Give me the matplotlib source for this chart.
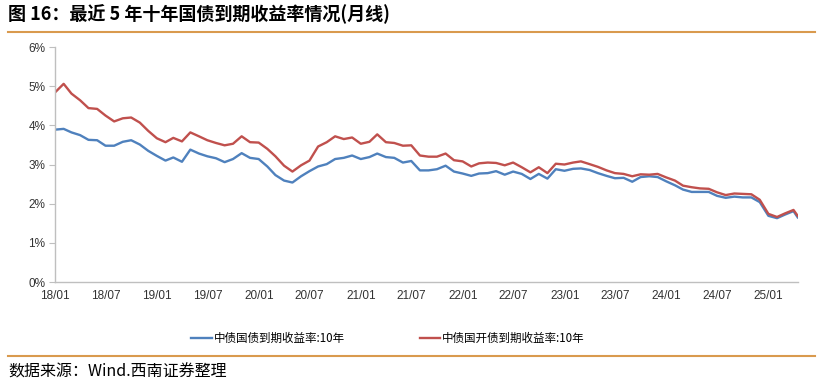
import numpy as np
import pandas as pd
import matplotlib
matplotlib.use("Agg")
import matplotlib.pyplot as plt
import matplotlib.dates as mdates
from matplotlib.lines import Line2D

plt.rcParams['font.family'] = ['Noto Sans CJK SC', 'DejaVu Sans']

# month-end dates Dec 2017 .. Mar 2025, plus last daily reading
dates = list(pd.date_range('2017-12-31', '2025-03-31', freq='ME')) + [pd.Timestamp('2025-04-15')]

# 中债国债到期收益率:10年 (%)
cgb = [3.89, 3.91, 3.82, 3.75, 3.63, 3.62, 3.48, 3.48, 3.58, 3.62, 3.51, 3.35,
       3.22, 3.10, 3.18, 3.07, 3.38, 3.28, 3.21, 3.16, 3.06, 3.14, 3.29, 3.17,
       3.14, 2.95, 2.73, 2.59, 2.54, 2.70, 2.83, 2.95, 3.01, 3.14, 3.17, 3.23,
       3.14, 3.19, 3.28, 3.19, 3.17, 3.05, 3.09, 2.85, 2.85, 2.88, 2.97, 2.82,
       2.77, 2.71, 2.77, 2.78, 2.83, 2.74, 2.82, 2.76, 2.63, 2.76, 2.64, 2.88,
       2.84, 2.89, 2.90, 2.86, 2.78, 2.71, 2.65, 2.66, 2.56, 2.68, 2.70, 2.68,
       2.57, 2.47, 2.36, 2.30, 2.30, 2.30, 2.20, 2.15, 2.18, 2.16, 2.16, 2.04,
       1.69, 1.63, 1.72, 1.81, 1.65]

# 中债国开债到期收益率:10年 (%)
cdb = [4.84, 5.06, 4.81, 4.64, 4.44, 4.42, 4.25, 4.10, 4.18, 4.20, 4.07, 3.86,
       3.67, 3.57, 3.68, 3.59, 3.82, 3.72, 3.62, 3.55, 3.49, 3.53, 3.72, 3.57,
       3.56, 3.40, 3.21, 2.97, 2.82, 2.98, 3.10, 3.46, 3.57, 3.72, 3.65, 3.69,
       3.53, 3.58, 3.77, 3.57, 3.55, 3.48, 3.49, 3.23, 3.20, 3.20, 3.28, 3.11,
       3.08, 2.95, 3.03, 3.05, 3.04, 2.98, 3.05, 2.93, 2.80, 2.93, 2.78, 3.02,
       3.00, 3.05, 3.08, 3.01, 2.94, 2.85, 2.78, 2.76, 2.70, 2.75, 2.74, 2.76,
       2.67, 2.59, 2.46, 2.42, 2.39, 2.38, 2.29, 2.22, 2.26, 2.25, 2.24, 2.10,
       1.74, 1.66, 1.75, 1.84, 1.69]

series_names = ['中债国债到期收益率:10年', '中债国开债到期收益率:10年']
series_colors = ['#4F81BD', '#C0504D']
yticks = [0, 1, 2, 3, 4, 5, 6]

title = '图 16：最近 5 年十年国债到期收益率情况(月线)'
source = '数据来源：Wind.西南证券整理'

fig = plt.figure(figsize=(8.21, 3.86), dpi=100)
ax = fig.add_axes([0.067, 0.2694, 0.9046, 0.6088])

ax.plot(dates, cgb, color=series_colors[0], lw=1.7, solid_joinstyle='round')
ax.plot(dates, cdb, color=series_colors[1], lw=1.7, solid_joinstyle='round')

ax.set_xlim(dates[0], dates[-1])
ax.set_ylim(0, 6)
ax.set_yticks(yticks)
ax.set_yticklabels([f'{v}%' for v in yticks])

xt = pd.date_range('2018-01-01', '2025-01-01', freq='6MS')
ax.set_xticks(xt)
ax.xaxis.set_major_formatter(mdates.DateFormatter('%y/%m'))

for s in ['top', 'right']:
    ax.spines[s].set_visible(False)
for s in ['left', 'bottom']:
    ax.spines[s].set_color('#BFBFBF')
    ax.spines[s].set_linewidth(1.0)

ax.tick_params(axis='y', direction='out', length=4, color='#BFBFBF',
               labelsize=8.5, labelcolor='#333333', pad=3)
ax.tick_params(axis='x', length=0, labelsize=8.5, labelcolor='#333333', pad=6)
for lab in ax.get_xticklabels() + ax.get_yticklabels():
    lab.set_family(['Liberation Sans', 'DejaVu Sans'])

handles = [Line2D([], [], color=c, lw=1.7) for c in series_colors]
fig.legend(handles, series_names, loc='center', bbox_to_anchor=(0.4726, 0.124),
           ncol=2, frameon=False, fontsize=8.3, handlelength=1.8,
           handletextpad=0.15, columnspacing=6.5)

# header and footer
fig.text(0.010, 0.963, title, fontsize=13, fontweight='bold', va='center', ha='left')
fig.add_artist(Line2D([0.010, 0.993], [0.918, 0.918], color='#D99A4E', lw=1.5,
                      transform=fig.transFigure))
fig.add_artist(Line2D([0.010, 0.993], [0.078, 0.078], color='#D99A4E', lw=1.5,
                      transform=fig.transFigure))
fig.text(0.010, 0.035, source, fontsize=11.5, style='italic', va='center', ha='left')

fig.savefig('out.png', dpi=100)
